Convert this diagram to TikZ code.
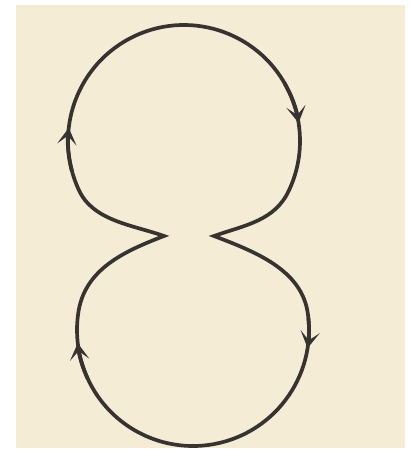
\documentclass[tikz,border=0pt]{standalone}
\usepackage{tikz}
\usepackage{xcolor}
\usetikzlibrary{arrows.meta,calc}
\definecolor{paperbeige}{RGB}{245,236,214}
\definecolor{inkgray}{RGB}{55,51,49}

\begin{document}
\begin{tikzpicture}[
 x=0.02cm, y=-0.02cm,
 curve/.style={draw=inkgray, line width=2.1pt, line join=miter},
 flow/.style={curve, -{Stealth[length=9.5pt, width=11pt, inset=5pt]}}
]

% Paper
\fill[white] (0,0) rectangle (409,458);
\fill[paperbeige] (16,5) rectangle (405,448);

% Centres of the two loops
\coordinate (topc) at (184,141);
\coordinate (botc) at (193,330);

% Cusps
\coordinate (lc) at (164,236);
\coordinate (rc) at (214,236);

% Figure eight
\draw[curve] (lc) .. controls (133,225) and (93,221) .. ($(topc)+(155:116)$)
 arc[start angle=155, end angle=385, radius=116]
 .. controls (275,221) and (245,225) .. (rc)
 .. controls (253,251) and (302,269) .. ($(botc)+(-8:116)$)
 arc[start angle=-8, end angle=188, radius=116]
 .. controls (84,269) and (125,251) .. cycle;

% Arrows - top loop
\draw[flow] ($(topc)+(165:116)$) arc[start angle=165, end angle=186.5, radius=116];
\draw[flow] ($(topc)+(330:116)$) arc[start angle=330, end angle=351, radius=116];

% Arrows - bottom loop
\draw[flow] ($(botc)+(-6:116)$) arc[start angle=-6, end angle=9, radius=116];
\draw[flow] ($(botc)+(155:116)$) arc[start angle=155, end angle=173.5, radius=116];

\end{tikzpicture}
\end{document}
